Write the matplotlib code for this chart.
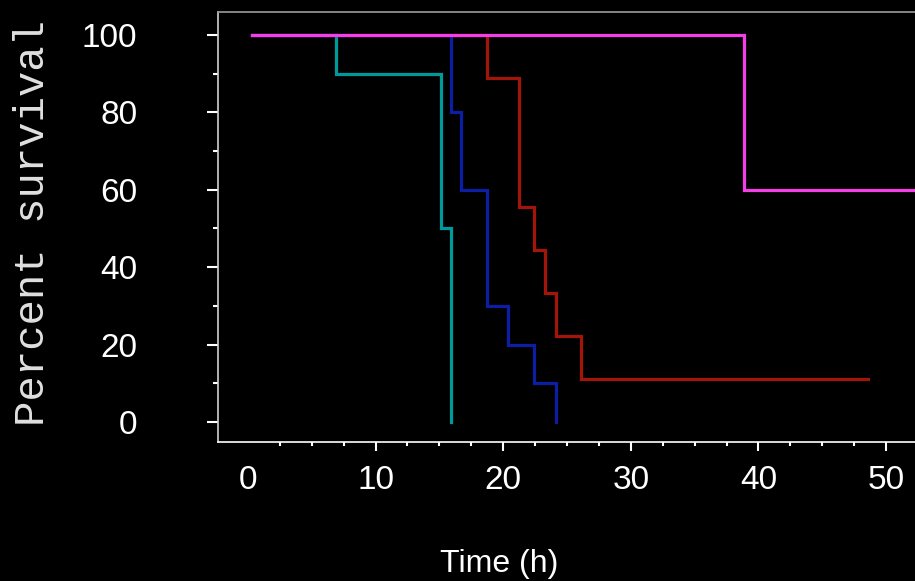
import matplotlib
matplotlib.use('Agg')
import matplotlib.pyplot as plt
from matplotlib.ticker import MultipleLocator

# Kaplan-Meier style survival curves (time in hours, percent survival)
teal_t = [0.3, 6.9, 15.1, 15.9]
teal_s = [100, 90, 50, 0]

blue_t = [0.3, 15.9, 16.7, 18.75, 20.4, 22.4, 24.1]
blue_s = [100, 80, 60, 30, 20, 10, 0]

red_t = [0.3, 18.7, 21.2, 22.4, 23.25, 24.1, 26.1, 48.6]
red_s = [100, 88.9, 55.6, 44.4, 33.3, 22.2, 11.1, 11.1]

magenta_t = [0.3, 38.9, 56]
magenta_s = [100, 60, 60]

x_ticks = [0, 10, 20, 30, 40, 50]
y_ticks = [0, 20, 40, 60, 80, 100]

series = [
    (teal_t, teal_s, '#009a9a'),
    (blue_t, blue_s, '#0a1fa3'),
    (red_t, red_s, '#a31508'),
    (magenta_t, magenta_s, '#f53ee8'),
]

fig = plt.figure(figsize=(9.15, 5.81), dpi=100, facecolor='black')
ax = fig.add_axes([218/915, 139/581, 697/915, 430/581])
ax.set_facecolor('black')

for t, s, c in series:
    ax.step(t, s, where='post', color=c, linewidth=2.3, solid_joinstyle='miter')

ax.set_xlim(-2.35, 52.27)
ax.set_ylim(-5.17, 105.94)

ax.set_xticks(x_ticks)
ax.set_yticks(y_ticks)
ax.xaxis.set_minor_locator(MultipleLocator(2.5))
ax.yaxis.set_minor_locator(MultipleLocator(10))
ax.xaxis.get_major_ticks()[0].tick1line.set_visible(False)

tick_font = dict(family='Liberation Sans', size=24, color='white')
ax.set_xticklabels([str(v) for v in x_ticks], **tick_font)
ax.set_yticklabels([str(v) for v in y_ticks], **tick_font)

# tick sizes in points (dpi 100 -> 1 px = 0.72 pt)
ax.tick_params(axis='x', which='major', length=6.5, width=1.5, color='white', pad=10)
ax.tick_params(axis='x', which='minor', length=3, width=1.5, color='white')
ax.tick_params(axis='y', which='major', length=8, width=1.5, color='white', pad=50)
ax.tick_params(axis='y', which='minor', length=3.6, width=1.5, color='white')

ax.spines['right'].set_visible(False)
ax.spines['top'].set_color('#9a9a9a')
ax.spines['left'].set_color('#d0d0d0')
ax.spines['bottom'].set_color('white')
for sp in ax.spines.values():
    sp.set_linewidth(1.2)

fig.text(499/915, 1 - 564/581, 'Time (h)', ha='center', va='center',
         family='Liberation Sans', size=23, color='white')
fig.text(33/915, 1 - 223/581, 'Percent survival', ha='center', va='center',
         rotation=90, family='Liberation Mono', size=30.5, color='#e0e0e0')

fig.savefig('out.png', dpi=100, facecolor='black')
